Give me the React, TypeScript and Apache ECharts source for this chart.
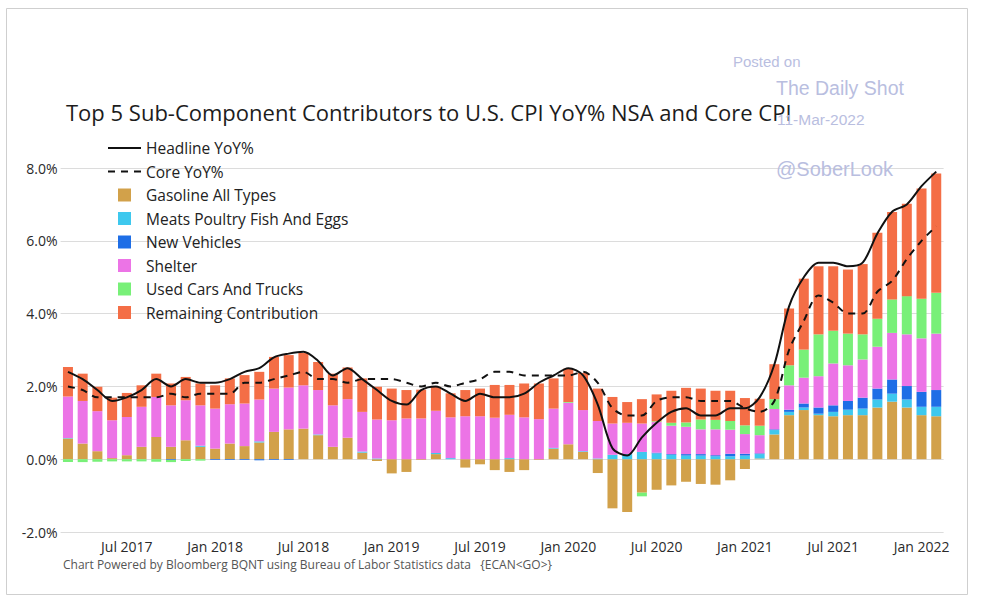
import React, { useEffect, useRef } from "react";
import * as echarts from "echarts";

const months: string[] = [
  "Mar 2017","Apr 2017","May 2017","Jun 2017","Jul 2017","Aug 2017","Sep 2017","Oct 2017","Nov 2017","Dec 2017",
  "Jan 2018","Feb 2018","Mar 2018","Apr 2018","May 2018","Jun 2018","Jul 2018","Aug 2018","Sep 2018","Oct 2018","Nov 2018","Dec 2018",
  "Jan 2019","Feb 2019","Mar 2019","Apr 2019","May 2019","Jun 2019","Jul 2019","Aug 2019","Sep 2019","Oct 2019","Nov 2019","Dec 2019",
  "Jan 2020","Feb 2020","Mar 2020","Apr 2020","May 2020","Jun 2020","Jul 2020","Aug 2020","Sep 2020","Oct 2020","Nov 2020","Dec 2020",
  "Jan 2021","Feb 2021","Mar 2021","Apr 2021","May 2021","Jun 2021","Jul 2021","Aug 2021","Sep 2021","Oct 2021","Nov 2021","Dec 2021",
  "Jan 2022","Feb 2022",
];

const headline: number[] = [
  2.4, 2.2, 1.9, 1.6, 1.7, 1.9, 2.2, 2.0, 2.2, 2.1,
  2.1, 2.2, 2.4, 2.5, 2.8, 2.9, 2.95, 2.7, 2.3, 2.5, 2.2, 1.9,
  1.6, 1.5, 1.9, 2.0, 1.8, 1.6, 1.8, 1.7, 1.7, 1.8, 2.1, 2.3,
  2.5, 2.3, 1.5, 0.3, 0.1, 0.6, 1.0, 1.3, 1.4, 1.2, 1.2, 1.4,
  1.4, 1.7, 2.6, 4.2, 5.0, 5.4, 5.4, 5.3, 5.4, 6.2, 6.8, 7.0,
  7.5, 7.9,
];

const coreCpi: number[] = [
  2.0, 1.9, 1.7, 1.7, 1.7, 1.7, 1.7, 1.8, 1.7, 1.8,
  1.8, 1.8, 2.1, 2.1, 2.2, 2.3, 2.4, 2.2, 2.2, 2.1, 2.2, 2.2,
  2.2, 2.1, 2.0, 2.1, 2.0, 2.1, 2.2, 2.4, 2.4, 2.3, 2.3, 2.3,
  2.3, 2.4, 2.1, 1.4, 1.2, 1.2, 1.6, 1.7, 1.7, 1.6, 1.6, 1.6,
  1.4, 1.3, 1.6, 3.0, 3.8, 4.5, 4.3, 4.0, 4.0, 4.6, 4.9, 5.5,
  6.0, 6.4,
];

const gasoline: number[] = [
  0.57, 0.43, 0.22, 0.03, 0.11, 0.34, 0.61, 0.34, 0.52, 0.34,
  0.29, 0.43, 0.36, 0.46, 0.75, 0.82, 0.84, 0.66, 0.34, 0.59, 0.18, -0.05,
  -0.39, -0.35, -0.02, 0.14, 0.0, -0.23, -0.14, -0.3, -0.35, -0.3, -0.02, 0.29,
  0.41, 0.2, -0.38, -1.35, -1.45, -0.92, -0.84, -0.72, -0.62, -0.68, -0.7, -0.58,
  -0.27, 0.02, 0.68, 1.21, 1.35, 1.21, 1.18, 1.21, 1.21, 1.42, 1.58, 1.42,
  1.21, 1.18,
];

const meats: number[] = [
  0.01, 0.0, 0.0, 0.0, 0.0, 0.0, 0.0, 0.0, 0.0, 0.03,
  0.0, 0.0, 0.0, 0.03, 0.0, 0.0, 0.0, 0.02, 0.0, 0.0, 0.03, 0.02,
  0.0, 0.0, 0.0, 0.03, 0.03, 0.0, 0.0, 0.0, 0.03, 0.0, 0.0, 0.02,
  0.0, 0.02, 0.02, 0.12, 0.14, 0.2, 0.16, 0.12, 0.1, 0.1, 0.08, 0.08,
  0.1, 0.12, 0.12, 0.09, 0.07, 0.04, 0.12, 0.15, 0.18, 0.22, 0.22, 0.22,
  0.23, 0.26,
];

const newVehicles: number[] = [
  0.0, 0.0, 0.0, 0.0, 0.0, 0.0, 0.0, -0.02, 0.0, 0.0,
  -0.02, -0.02, -0.02, -0.03, -0.02, -0.02, 0.0, 0.0, 0.0, 0.0, 0.0, 0.0,
  0.0, 0.0, 0.0, 0.0, 0.0, 0.0, 0.0, 0.0, 0.0, 0.0, 0.0, 0.0,
  0.0, 0.0, 0.0, 0.0, 0.0, 0.0, 0.02, 0.02, 0.04, 0.04, 0.03, 0.07,
  0.05, 0.02, 0.02, 0.06, 0.11, 0.17, 0.18, 0.24, 0.3, 0.3, 0.39, 0.37,
  0.41, 0.46,
];

const shelter: number[] = [
  1.14, 1.17, 1.1, 1.04, 1.05, 1.1, 1.1, 1.14, 1.1, 1.11,
  1.1, 1.08, 1.17, 1.15, 1.19, 1.15, 1.19, 1.22, 1.14, 1.06, 1.09, 1.07,
  1.07, 1.12, 1.12, 1.16, 1.12, 1.18, 1.18, 1.14, 1.19, 1.15, 1.1, 1.08,
  1.14, 1.13, 1.03, 0.86, 0.86, 0.78, 0.84, 0.78, 0.75, 0.68, 0.71, 0.66,
  0.54, 0.5, 0.56, 0.67, 0.71, 0.86, 1.15, 0.98, 1.05, 1.15, 1.28, 1.42,
  1.47, 1.55,
];

const usedCars: number[] = [
  -0.08, -0.08, -0.07, -0.06, -0.06, -0.06, -0.07, -0.06, -0.05, -0.04,
  0.0, 0.0, 0.0, 0.0, 0.0, 0.0, 0.0, 0.0, 0.0, 0.0, 0.0, 0.0,
  0.0, 0.0, 0.0, 0.0, 0.0, 0.0, 0.0, 0.0, 0.0, 0.0, 0.0, 0.0,
  0.02, 0.0, 0.0, 0.0, 0.0, -0.1, 0.02, 0.08, 0.12, 0.27, 0.26, 0.24,
  0.24, 0.26, 0.27, 0.55, 0.77, 1.15, 0.9, 0.87, 0.69, 0.77, 0.92, 1.05,
  1.09, 1.12,
];

const remaining: number[] = [
  0.81, 0.75, 0.67, 0.62, 0.66, 0.59, 0.64, 0.6, 0.64, 0.6,
  0.64, 0.71, 0.78, 0.76, 0.87, 0.89, 0.89, 0.77, 0.87, 0.87, 0.92, 0.9,
  0.87, 0.78, 0.79, 0.66, 0.66, 0.72, 0.76, 0.9, 0.82, 0.93, 0.98, 0.83,
  0.92, 1.02, 0.89, 0.73, 0.57, 0.67, 0.74, 0.88, 0.95, 0.85, 0.8, 0.83,
  0.75, 0.74, 0.96, 1.56, 1.95, 1.87, 1.77, 1.76, 1.93, 2.36, 2.4, 2.54,
  3.03, 3.28,
];

const yTicks = { min: -2, max: 8, interval: 2 };

const COLORS = {
  gas: "#d2a14a",
  meats: "#3ec8ee",
  nv: "#1e6ee6",
  shelter: "#ec74e6",
  used: "#78f078",
  rem: "#f46e46",
};

const FONT = "'Open Sans', 'Noto Sans', sans-serif";
const WM_FONT = "'Liberation Sans', Arial, sans-serif";
const WM_COLOR = "#b9bedf";
const SQUARE = "path://M0,0H10V10H0Z";

export default function App() {
  const ref = useRef<HTMLDivElement>(null);
  useEffect(() => {
    if (!ref.current) return;
    const chart = echarts.init(ref.current, undefined, { renderer: "svg" });
    const barSeries = (name: string, data: number[], color: string) => ({
      name,
      type: "bar",
      stack: "cpi",
      data,
      barWidth: 10,
      itemStyle: { color },
      emphasis: { disabled: true },
    });
    const hideSymbol = { itemStyle: { opacity: 0, borderWidth: 0 } };
    chart.setOption({
      animation: false,
      backgroundColor: "#ffffff",
      textStyle: { fontFamily: FONT },
      grid: { left: 60.6, top: 168, width: 883, height: 364, containLabel: false },
      title: {
        text: "Top 5 Sub-Component Contributors to U.S. CPI YoY% NSA and Core CPI",
        left: 66,
        top: 101,
        padding: 0,
        textStyle: { fontFamily: FONT, fontSize: 22, fontWeight: "normal", color: "#1c1c1c" },
      },
      legend: {
        orient: "vertical",
        left: 107,
        top: 140,
        padding: 0,
        itemWidth: 33,
        itemHeight: 13,
        itemGap: 7.5,
        symbolKeepAspect: true,
        textStyle: { fontFamily: FONT, fontSize: 15.5, color: "#222", lineHeight: 16 },
        data: [
          { name: "Headline YoY%", ...hideSymbol },
          { name: "Core YoY%", ...hideSymbol },
          { name: "Gasoline All Types", icon: SQUARE },
          { name: "Meats Poultry Fish And Eggs", icon: SQUARE },
          { name: "New Vehicles", icon: SQUARE },
          { name: "Shelter", icon: SQUARE },
          { name: "Used Cars And Trucks", icon: SQUARE },
          { name: "Remaining Contribution", icon: SQUARE },
        ],
      },
      xAxis: {
        type: "category",
        data: months,
        axisLine: { show: false },
        axisTick: { show: false },
        axisLabel: {
          interval: (_i: number, v: string) => v.startsWith("Jan") || v.startsWith("Jul"),
          fontFamily: FONT,
          fontSize: 14,
          color: "#2a2a2a",
          margin: 7,
        },
      },
      yAxis: {
        type: "value",
        min: yTicks.min,
        max: yTicks.max,
        interval: yTicks.interval,
        axisLine: { show: false },
        axisTick: { show: false },
        splitLine: { lineStyle: { color: "#dcdcdc", width: 1 } },
        axisLabel: {
          fontFamily: FONT,
          fontSize: 14,
          color: "#2a2a2a",
          margin: 3,
          formatter: (v: number) => v.toFixed(1) + "%",
        },
      },
      graphic: [
        {
          type: "rect",
          shape: { x: 6.5, y: 8.5, width: 961, height: 586 },
          style: { fill: "none", stroke: "#cfcfcf", lineWidth: 1 },
          silent: true,
          z: -10,
        },
        {
          type: "text",
          left: 63,
          top: 558,
          style: {
            text: "Chart Powered by Bloomberg BQNT using Bureau of Labor Statistics data   {ECAN<GO>}",
            font: `12px ${FONT}`,
            fill: "#555",
          },
        },
        { type: "text", left: 733, top: 54, style: { text: "Posted on", font: `15px ${WM_FONT}`, fill: WM_COLOR }, z: 100 },
        { type: "text", left: 776, top: 78, style: { text: "The Daily Shot", font: `19.5px ${WM_FONT}`, fill: WM_COLOR }, z: 100 },
        { type: "text", left: 777, top: 111, style: { text: "11-Mar-2022", font: `15.5px ${WM_FONT}`, fill: WM_COLOR }, z: 100 },
        { type: "text", left: 776, top: 159, style: { text: "@SoberLook", font: `20px ${WM_FONT}`, fill: WM_COLOR }, z: 100 },
      ],
      series: [
        barSeries("Gasoline All Types", gasoline, COLORS.gas),
        barSeries("Meats Poultry Fish And Eggs", meats, COLORS.meats),
        barSeries("New Vehicles", newVehicles, COLORS.nv),
        barSeries("Shelter", shelter, COLORS.shelter),
        barSeries("Used Cars And Trucks", usedCars, COLORS.used),
        barSeries("Remaining Contribution", remaining, COLORS.rem),
        {
          name: "Headline YoY%",
          type: "line",
          data: headline,
          symbol: "none",
          smooth: 0.3,
          z: 5,
          lineStyle: { color: "#111", width: 2 },
          itemStyle: { color: "#111" },
        },
        {
          name: "Core YoY%",
          type: "line",
          data: coreCpi,
          symbol: "none",
          smooth: 0.3,
          z: 5,
          lineStyle: { color: "#111", width: 2, type: [7, 6] },
          itemStyle: { color: "#111" },
        },
      ],
    });
    return () => chart.dispose();
  }, []);
  return (
    <div
      ref={ref}
      style={{ position: "absolute", left: 0, top: 0, width: 982, height: 603 }}
    />
  );
}
